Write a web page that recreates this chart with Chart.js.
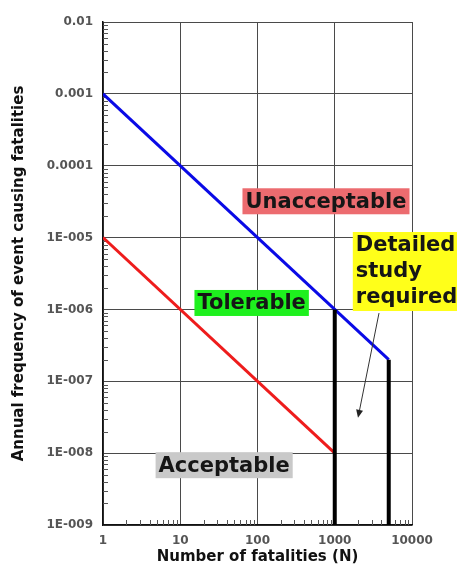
<!DOCTYPE html>
<html>
<head>
<meta charset="utf-8">
<script src="https://cdn.jsdelivr.net/npm/chart.js@4.4.1/dist/chart.umd.min.js"></script>
<style>
  html, body { margin: 0; padding: 0; background: #fff; }
  canvas { display: block; }
</style>
</head>
<body>
<canvas id="fn" width="457" height="565"></canvas>
<script>
// F-N criterion lines: number of fatalities (N) vs annual frequency (F)
const upperN = [1, 5000];
const upperF = [1e-3, 2e-7];
const lowerN = [1, 1000];
const lowerF = [1e-5, 1e-8];
const cutoffAN = [1000, 1000];
const cutoffAF = [1e-6, 1e-9];
const cutoffBN = [5000, 5000];
const cutoffBF = [2e-7, 1e-9];

// Axis decades and their printed labels
const xTickValues = [1, 10, 100, 1000, 10000];
const xTickLabels = ['1', '10', '100', '1000', '10000'];
const yTickValues = [1e-2, 1e-3, 1e-4, 1e-5, 1e-6, 1e-7, 1e-8, 1e-9];
const yTickLabels = ['0.01', '0.001', '0.0001', '1E-005', '1E-006', '1E-007', '1E-008', '1E-009'];

// Region names
const regionNames = ['Unacceptable', 'Tolerable', 'Acceptable', 'Detailed\nstudy\nrequired'];

// Where each region name sits (centre, in N / F units) and its fill
const regionLayout = [
  { n: 770,  f: 3.2e-5,  fill: '#ec6b6f' },
  { n: 84,   f: 1.23e-6, fill: '#1ef01e' },
  { n: 37,   f: 6.8e-9,  fill: '#c9c9c9' },
  { n: 8490, f: 3.37e-6, fill: '#ffff1a' }
];
// Pointer from the "Detailed study required" note into the band between the cut-offs
const pointerLayout = { from: { n: 3740, f: 8.9e-7 }, to: { n: 2000, f: 3.1e-8 } };

const pts = (xs, ys) => xs.map((x, i) => ({ x: x, y: ys[i] }));
const line = (xs, ys, color, width) => ({
  data: pts(xs, ys), borderColor: color, borderWidth: width, showLine: true,
  pointRadius: 0, fill: false, tension: 0, borderCapStyle: 'butt'
});

const FONT = 'DejaVu Sans';

// Small inner ticks at 2..9 within each decade
const minorTicks = {
  id: 'minorTicks',
  beforeDatasetsDraw(chart) {
    const { ctx, chartArea: a, scales: { x, y } } = chart;
    ctx.save();
    ctx.strokeStyle = '#555';
    ctx.lineWidth = 1;
    ctx.beginPath();
    for (let e = 0; e < 4; e++) {
      for (let m = 2; m <= 9; m++) {
        const px = Math.round(x.getPixelForValue(m * Math.pow(10, e))) + 0.5;
        ctx.moveTo(px, a.bottom);
        ctx.lineTo(px, a.bottom - 5);
      }
    }
    for (let e = -9; e < -2; e++) {
      for (let m = 2; m <= 9; m++) {
        const py = Math.round(y.getPixelForValue(m * Math.pow(10, e))) + 0.5;
        ctx.moveTo(a.left, py);
        ctx.lineTo(a.left + 5, py);
      }
    }
    ctx.stroke();
    ctx.restore();
  }
};

// Region name boxes and the pointer arrow
const notes = {
  id: 'notes',
  afterDatasetsDraw(chart) {
    const { ctx, scales: { x, y } } = chart;
    ctx.save();
    ctx.font = 'bold 21px "' + FONT + '"';
    const lineH = 26, padX = 3;
    regionNames.forEach((name, i) => {
      const L = regionLayout[i];
      const cx = x.getPixelForValue(L.n), cy = y.getPixelForValue(L.f);
      const lines = name.split('\n');
      const w = Math.max(...lines.map(s => ctx.measureText(s).width)) + padX * 2;
      const h = lines.length * lineH + (lines.length > 1 ? 1 : 0);
      const left = cx - w / 2, top = cy - h / 2;
      ctx.fillStyle = L.fill;
      ctx.fillRect(left, top, w, h);
      ctx.fillStyle = '#161616';
      ctx.textAlign = 'left';
      ctx.textBaseline = 'middle';
      lines.forEach((s, k) => ctx.fillText(s, left + padX, top + lineH * k + lineH / 2 + 1));
    });

    const x0 = x.getPixelForValue(pointerLayout.from.n), y0 = y.getPixelForValue(pointerLayout.from.f);
    const x1 = x.getPixelForValue(pointerLayout.to.n), y1 = y.getPixelForValue(pointerLayout.to.f);
    const ang = Math.atan2(y1 - y0, x1 - x0);
    const hl = 8, hw = 3.5;
    ctx.strokeStyle = '#333';
    ctx.lineWidth = 1;
    ctx.beginPath();
    ctx.moveTo(x0, y0);
    ctx.lineTo(x1 - Math.cos(ang) * hl * 0.8, y1 - Math.sin(ang) * hl * 0.8);
    ctx.stroke();
    ctx.fillStyle = '#222';
    ctx.beginPath();
    ctx.moveTo(x1, y1);
    ctx.lineTo(x1 - Math.cos(ang) * hl + Math.sin(ang) * hw, y1 - Math.sin(ang) * hl - Math.cos(ang) * hw);
    ctx.lineTo(x1 - Math.cos(ang) * hl - Math.sin(ang) * hw, y1 - Math.sin(ang) * hl + Math.cos(ang) * hw);
    ctx.closePath();
    ctx.fill();
    ctx.restore();
  }
};

const labelFor = (values, labels) => v => {
  const i = values.findIndex(t => Math.abs(Math.log10(t) - Math.log10(v)) < 1e-6);
  return i >= 0 ? labels[i] : '';
};

new Chart(document.getElementById('fn'), {
  type: 'scatter',
  data: {
    datasets: [
      line(cutoffAN, cutoffAF, '#000000', 4),
      line(cutoffBN, cutoffBF, '#000000', 4),
      line(lowerN, lowerF, '#ee1c1c', 3),
      line(upperN, upperF, '#0a0ae6', 3)
    ]
  },
  options: {
    responsive: false,
    animation: false,
    devicePixelRatio: 1,
    layout: { padding: { top: 22, right: 45, bottom: 0, left: 0 } },
    plugins: { legend: { display: false }, tooltip: { enabled: false } },
    scales: {
      x: {
        type: 'logarithmic', min: 1, max: 10000, position: 'bottom',
        afterBuildTicks: s => { s.ticks = xTickValues.map(v => ({ value: v })); },
        afterFit: s => { s.height = 40; },
        ticks: {
          autoSkip: false, maxRotation: 0, padding: 9, color: '#555',
          font: { family: FONT, weight: 'bold', size: 12 },
          callback: labelFor(xTickValues, xTickLabels)
        },
        grid: { color: '#4a4a4a', lineWidth: 1, drawTicks: false },
        border: { color: '#111', width: 1.5 },
        title: {
          display: true, text: 'Number of fatalities (N)', color: '#111',
          font: { family: FONT, weight: 'bold', size: 15, lineHeight: 1 }, padding: 0
        }
      },
      y: {
        type: 'logarithmic', min: 1e-9, max: 1e-2, position: 'left',
        afterBuildTicks: s => { s.ticks = yTickValues.slice().reverse().map(v => ({ value: v })); },
        afterFit: s => { s.width = 103; },
        ticks: {
          autoSkip: false, padding: 10, color: '#555',
          font: { family: FONT, weight: 'bold', size: 12 },
          callback: labelFor(yTickValues, yTickLabels)
        },
        grid: { color: '#4a4a4a', lineWidth: 1, drawTicks: false },
        border: { color: '#111', width: 1.5 },
        title: {
          display: true, text: 'Annual frequency of event causing fatalities', color: '#111',
          font: { family: FONT, weight: 'bold', size: 15, lineHeight: 1 }, padding: { top: 12, bottom: 0 }
        }
      }
    }
  },
  plugins: [minorTicks, notes]
});
</script>
</body>
</html>
